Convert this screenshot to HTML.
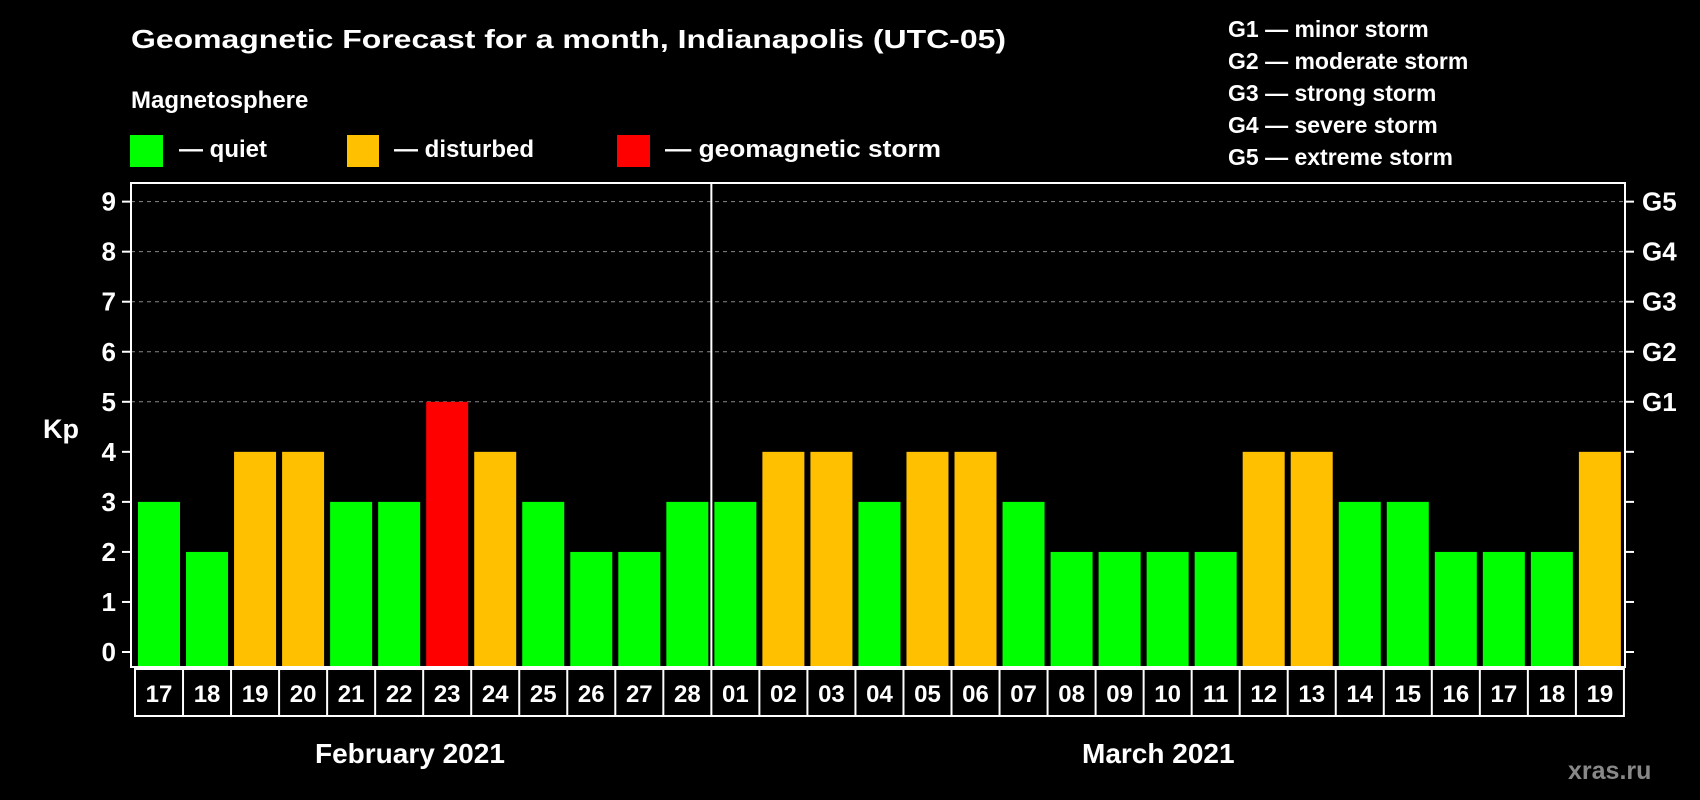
<!DOCTYPE html>
<html><head><meta charset="utf-8"><style>
html,body{margin:0;padding:0;background:#000;}
svg{display:block;font-family:"Liberation Sans",Arial,sans-serif;font-weight:bold;}
</style></head><body>
<svg id="chart" width="1700" height="800" viewBox="0 0 1700 800" xmlns="http://www.w3.org/2000/svg">
<rect width="1700" height="800" fill="#000"/>
<text x="131" y="48" fill="#fff" font-size="26" textLength="875" lengthAdjust="spacingAndGlyphs">Geomagnetic Forecast for a month, Indianapolis (UTC-05)</text>
<text x="131" y="108" fill="#fff" font-size="24">Magnetosphere</text>
<g><rect x="130" y="135" width="33" height="32" fill="#00ff00"/><text x="179" y="157" fill="#fff" font-size="24">— quiet</text></g>
<g><rect x="347" y="135" width="32" height="32" fill="#ffc000"/><text x="394" y="157" fill="#fff" font-size="24">— disturbed</text></g>
<g><rect x="617" y="135" width="33" height="32" fill="#ff0000"/><text x="665" y="157" fill="#fff" font-size="24" textLength="276" lengthAdjust="spacingAndGlyphs">— geomagnetic storm</text></g>
<g fill="#fff" font-size="23">
<text x="1228" y="37">G1 — minor storm</text>
<text x="1228" y="69">G2 — moderate storm</text>
<text x="1228" y="101">G3 — strong storm</text>
<text x="1228" y="133">G4 — severe storm</text>
<text x="1228" y="165">G5 — extreme storm</text>
</g>
<text x="43" y="438" fill="#fff" font-size="27">Kp</text>
<g id="grid"></g><g id="bars"></g><g id="axes"></g><g id="days"></g>
<text x="315" y="763" fill="#fff" font-size="28">February 2021</text>
<text x="1082" y="763" fill="#fff" font-size="28">March 2021</text>
<text x="1568" y="779" fill="#888" font-size="25">xras.ru</text>
</svg>
<script>
const days = ["17","18","19","20","21","22","23","24","25","26","27","28","01","02","03","04","05","06","07","08","09","10","11","12","13","14","15","16","17","18","19"];
const kpValues = [3,2,4,4,3,3,5,4,3,2,2,3,3,4,4,3,4,4,3,2,2,2,2,4,4,3,3,2,2,2,4];
const yTicks = [0,1,2,3,4,5,6,7,8,9];
const gLabels = ["G1","G2","G3","G4","G5"];
const gLevels = [5,6,7,8,9];
const febCount = 12;

const NS="http://www.w3.org/2000/svg";
const L=131,R=1625,T=183,B=667,X0=135,CW=48.03;
const y=v=>652-v*50.04;
const x=i=>X0+i*CW;
function mk(t,p,parent){const e=document.createElementNS(NS,t);for(const k in p)e.setAttribute(k,p[k]);parent.appendChild(e);return e;}
const grid=document.getElementById('grid'),bars=document.getElementById('bars'),axes=document.getElementById('axes'),dg=document.getElementById('days');
gLevels.forEach(v=>{
  const ln=mk('line',{x1:L,x2:R,y1:y(v),y2:y(v),stroke:'#888','stroke-width':1,'stroke-dasharray':'4 4'},grid);
  
  
});
kpValues.forEach((v,i)=>{
  const c=v>=5?'#ff0000':(v>=4?'#ffc000':'#00ff00');
  const r=mk('rect',{x:x(i)+3,y:y(v),width:42,height:B-y(v),fill:c},bars);
  
  
});
const fr=mk('rect',{x:L,y:T,width:R-L,height:B-T,fill:'none',stroke:'#fff','stroke-width':2},axes);


const dv=mk('line',{x1:x(febCount),x2:x(febCount),y1:T,y2:B,stroke:'#fff','stroke-width':2},axes);


yTicks.forEach(v=>{
  mk('line',{x1:122,x2:L,y1:y(v),y2:y(v),stroke:'#fff','stroke-width':2},axes);
  mk('line',{x1:R,x2:1634,y1:y(v),y2:y(v),stroke:'#fff','stroke-width':2},axes);
  const t=mk('text',{x:116,y:y(v)+9,fill:'#fff','font-size':26,'text-anchor':'end'},axes);
  t.textContent=v;
  
  
});
gLabels.forEach((g,i)=>{
  const t=mk('text',{x:1642,y:y(gLevels[i])+9,fill:'#fff','font-size':26},axes);
  t.textContent=g;
  
  
});
const box=mk('rect',{x:X0,y:669,width:CW*days.length,height:47,fill:'none',stroke:'#fff','stroke-width':2},dg);


days.forEach((d,i)=>{
  if(i>0)mk('line',{x1:x(i),x2:x(i),y1:669,y2:716,stroke:'#fff','stroke-width':2},dg);
  const t=mk('text',{x:x(i)+CW/2,y:702,fill:'#fff','font-size':24,'text-anchor':'middle'},dg);
  t.textContent=d;
  
  
});
</script>
</body></html>
